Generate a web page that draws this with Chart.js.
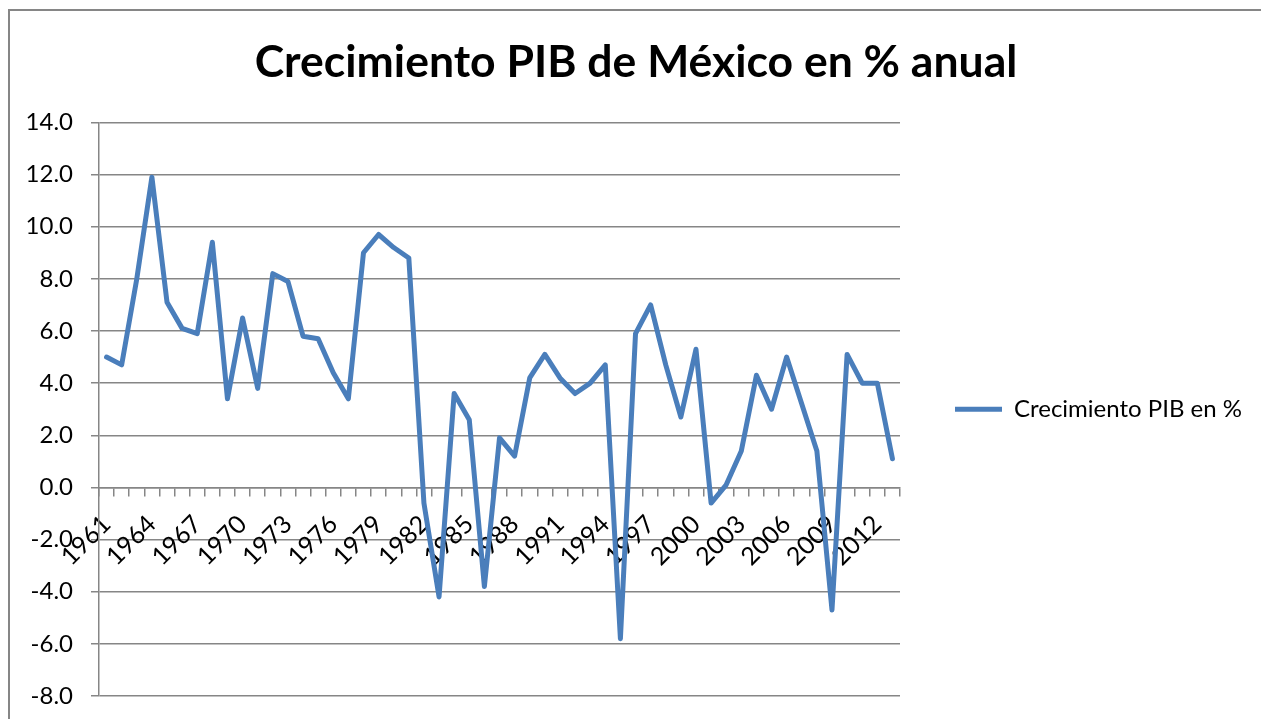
<!DOCTYPE html>
<html lang="es">
<head>
<meta charset="utf-8">
<title>Crecimiento PIB de México</title>
<script src="https://cdn.jsdelivr.net/npm/chart.js@4.4.1/dist/chart.umd.min.js"></script>
<style>
    html, body { margin: 0; padding: 0; background: #fff; overflow: hidden; }
    /* marco gris del gráfico (sólo se ven el borde izquierdo y el superior) */
    #frame {
        position: absolute; left: 8px; top: 9px; width: 1300px; height: 760px;
        border-left: 2px solid #868686; border-top: 2px solid #868686;
    }
    #chart { position: absolute; left: 0; top: 0; }
</style>
</head>
<body>
<div id="frame"></div>
<canvas id="chart" width="1288" height="719"></canvas>
<script>
// Datos: crecimiento anual del PIB de México (%)
const years = [
    '1961', '1962', '1963', '1964', '1965', '1966', '1967', '1968', '1969', '1970',
    '1971', '1972', '1973', '1974', '1975', '1976', '1977', '1978', '1979', '1980',
    '1981', '1982', '1983', '1984', '1985', '1986', '1987', '1988', '1989', '1990',
    '1991', '1992', '1993', '1994', '1995', '1996', '1997', '1998', '1999', '2000',
    '2001', '2002', '2003', '2004', '2005', '2006', '2007', '2008', '2009', '2010',
    '2011', '2012', '2013'
];
const pibGrowth = [
    5.0, 4.7, 8.0, 11.9, 7.1, 6.1, 5.9, 9.4, 3.4, 6.5,
    3.8, 8.2, 7.9, 5.8, 5.7, 4.4, 3.4, 9.0, 9.7, 9.2,
    8.8, -0.6, -4.2, 3.6, 2.6, -3.8, 1.9, 1.2, 4.2, 5.1,
    4.2, 3.6, 4.0, 4.7, -5.8, 5.9, 7.0, 4.7, 2.7, 5.3,
    -0.6, 0.1, 1.4, 4.3, 3.0, 5.0, 3.2, 1.4, -4.7, 5.1,
    4.0, 4.0, 1.1
];
const seriesName = 'Crecimiento PIB en %';
const chartTitle = 'Crecimiento PIB de México en % anual';
const yRange = [-8, 14];
const yStep = 2;
const labelEvery = 3; // sólo se rotula un año de cada tres

const gridColor = '#868686';
const lineColor = '#4a7ebb';
const fontFamily = 'Lato, "Open Sans", sans-serif';
const fontSize = 24;

// Ancho de la leyenda para que el área de trazado termine en x = 900
const canvasWidth = 1288;
const plotRight = 900;
const legendGap = 55;
const legendLine = 47;
const measureCtx = document.createElement('canvas').getContext('2d');
measureCtx.font = `${fontSize}px ${fontFamily}`;
const legendTextWidth = measureCtx.measureText(seriesName).width;
const legendWidth = legendGap + legendLine + fontSize / 2 + legendTextWidth + 10;
const padRight = Math.max(0, canvasWidth - plotRight - legendWidth);

const ctx = document.getElementById('chart');

new Chart(ctx, {
    type: 'line',
    data: {
        labels: years,
        datasets: [{
            label: seriesName,
            data: pibGrowth,
            borderColor: lineColor,
            backgroundColor: lineColor,
            borderWidth: 5,
            borderJoinStyle: 'round',
            borderCapStyle: 'round',
            pointRadius: 0,
            tension: 0
        }]
    },
    options: {
        responsive: false,
        animation: false,
        devicePixelRatio: 1,
        layout: {
            padding: { left: 20, right: padRight, top: 0, bottom: 23 }
        },
        plugins: {
            title: {
                display: true,
                text: chartTitle,
                color: '#000',
                font: { family: fontFamily, size: 44.5, weight: 'bold', lineHeight: 1.2 },
                padding: { top: 36, bottom: 33 }
            },
            legend: {
                position: 'right',
                fullSize: false,
                maxWidth: 500,
                labels: {
                    usePointStyle: true,
                    pointStyle: 'line',
                    pointStyleWidth: legendLine,
                    padding: legendGap,
                    color: '#000',
                    font: { family: fontFamily, size: fontSize }
                }
            },
            tooltip: { enabled: false }
        },
        scales: {
            x: {
                position: { y: 0 },
                offset: true,
                grid: {
                    offset: true,
                    drawOnChartArea: false,
                    drawTicks: true,
                    tickLength: 8,
                    color: gridColor,
                    lineWidth: 1.5
                },
                border: { display: true, color: gridColor, width: 1.5 },
                ticks: {
                    autoSkip: false,
                    minRotation: 45,
                    maxRotation: 45,
                    padding: 14,
                    color: '#000',
                    font: { family: fontFamily, size: 25 },
                    callback: (val, i) => (i % labelEvery === 0 ? years[i] : '')
                }
            },
            y: {
                min: yRange[0],
                max: yRange[1],
                afterFit: (scale) => {
                    scale.width = 79;
                    // el padding de las etiquetas no debe recortar el área de trazado
                    scale.paddingBottom = 0;
                },
                grid: {
                    color: gridColor,
                    lineWidth: 1.5,
                    drawTicks: true,
                    tickLength: 8
                },
                border: { display: true, color: gridColor, width: 1.5 },
                ticks: {
                    stepSize: yStep,
                    padding: 18,
                    color: '#000',
                    font: { family: fontFamily, size: fontSize },
                    callback: (v) => v.toFixed(1)
                }
            }
        }
    }
});
</script>
</body>
</html>
